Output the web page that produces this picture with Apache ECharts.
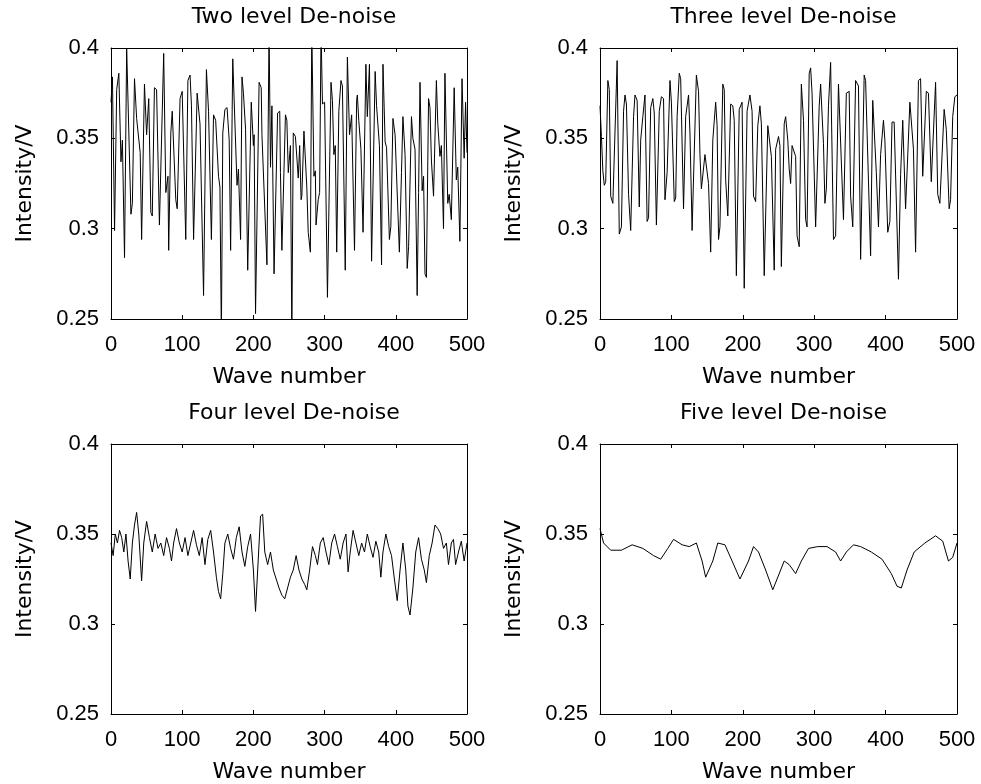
<!DOCTYPE html>
<html>
<head>
<meta charset="utf-8">
<script src="https://cdn.jsdelivr.net/npm/echarts@6/dist/echarts.min.js"></script>
<style>
  html, body { margin: 0; padding: 0; background: #fff; }
  #chart { width: 981px; height: 784px; }
</style>
</head>
<body>
<div id="chart"></div>
<script>
// panel titles
var titles = ['Two level De-noise', 'Three level De-noise', 'Four level De-noise', 'Five level De-noise'];
var xTicks = [0, 500, 100];      // min, max, step
var yTicks = [0.25, 0.4, 0.05];

// [wave number, intensity]
var twoLevel = [
  [0,0.37],[2,0.384],[5,0.299],[8,0.377],[11,0.386],[14,0.337],[16,0.349],[19,0.284],[22,0.4],
  [28,0.308],[30,0.314],[33,0.383],[36,0.361],[38,0.36],[41,0.342],[43,0.294],[47,0.38],[50,0.352],
  [53,0.372],[56,0.309],[58,0.307],[61,0.378],[64,0.377],[68,0.302],[74,0.397],[77,0.32],[80,0.329],
  [81,0.288],[84,0.353],[86,0.365],[88,0.365],[91,0.316],[93,0.311],[97,0.372],[100,0.376],[105,0.294],
  [108,0.382],[111,0.385],[113,0.368],[116,0.294],[121,0.375],[125,0.358],[127,0.357],[130,0.263],
  [134,0.388],[137,0.365],[139,0.366],[141,0.294],[144,0.363],[147,0.36],[151,0.329],[153,0.323],
  [155,0.24],[157,0.353],[160,0.366],[163,0.367],[166,0.349],[168,0.288],[171,0.394],[177,0.324],
  [179,0.333],[182,0.294],[184,0.384],[186,0.375],[189,0.355],[192,0.277],[197,0.37],[198,0.362],
  [200,0.346],[201,0.352],[203,0.253],[208,0.381],[211,0.378],[212,0.352],[214,0.351],[219,0.28],
  [222,0.41],[224,0.334],[226,0.368],[229,0.275],[234,0.364],[237,0.365],[238,0.331],[240,0.288],
  [245,0.363],[247,0.36],[249,0.331],[252,0.346],[254,0.24],[256,0.353],[259,0.351],[263,0.328],
  [265,0.346],[267,0.316],[268,0.318],[271,0.354],[275,0.323],[277,0.298],[280,0.287],[282,0.41],
  [285,0.329],[287,0.332],[288,0.302],[291,0.316],[293,0.32],[295,0.41],[297,0.369],[300,0.37],
  [304,0.262],[309,0.381],[311,0.371],[313,0.341],[315,0.346],[317,0.287],[320,0.365],[323,0.382],
  [325,0.379],[329,0.277],[332,0.395],[335,0.352],[338,0.363],[342,0.288],[343,0.287],[345,0.371],
  [346,0.374],[348,0.36],[351,0.344],[354,0.298],[358,0.391],[360,0.362],[363,0.391],[366,0.282],
  [371,0.387],[373,0.368],[377,0.346],[380,0.28],[382,0.391],[385,0.348],[387,0.345],[391,0.294],
  [393,0.301],[396,0.361],[399,0.352],[401,0.351],[405,0.287],[408,0.331],[410,0.362],[413,0.341],
  [416,0.278],[418,0.29],[420,0.29],[422,0.362],[424,0.35],[427,0.344],[430,0.263],[432,0.32],
  [434,0.381],[437,0.321],[439,0.329],[441,0.275],[443,0.273],[446,0.372],[448,0.367],[450,0.338],
  [453,0.318],[457,0.382],[459,0.358],[462,0.34],[464,0.346],[467,0.3],[469,0.386],[473,0.314],
  [475,0.319],[478,0.305],[482,0.378],[485,0.327],[487,0.334],[490,0.293],[493,0.383],[496,0.339],
  [498,0.37],[500,0.342]
];

var threeLevel = [
  [0,0.368],[2,0.351],[4,0.332],[6,0.324],[8,0.326],[11,0.382],[13,0.377],[15,0.318],[18,0.314],
  [24,0.393],[27,0.297],[30,0.301],[33,0.365],[35,0.374],[37,0.369],[40,0.319],[43,0.299],[47,0.362],
  [49,0.374],[52,0.371],[55,0.312],[57,0.349],[60,0.362],[63,0.374],[66,0.304],[68,0.306],[71,0.367],
  [74,0.372],[76,0.364],[79,0.302],[83,0.365],[86,0.373],[89,0.372],[91,0.316],[94,0.331],[98,0.382],
  [100,0.37],[104,0.315],[106,0.317],[108,0.362],[111,0.386],[113,0.383],[117,0.311],[120,0.362],
  [124,0.374],[126,0.353],[129,0.299],[135,0.385],[138,0.376],[140,0.341],[142,0.322],[144,0.322],
  [147,0.341],[149,0.34],[152,0.325],[155,0.287],[158,0.349],[162,0.37],[164,0.357],[166,0.294],
  [168,0.301],[172,0.38],[174,0.377],[176,0.327],[179,0.307],[183,0.369],[186,0.368],[188,0.36],
  [191,0.274],[195,0.366],[199,0.37],[202,0.267],[206,0.365],[210,0.374],[213,0.365],[215,0.318],
  [218,0.315],[221,0.357],[224,0.368],[226,0.358],[230,0.274],[235,0.357],[237,0.356],[240,0.34],
  [244,0.277],[246,0.344],[250,0.351],[252,0.346],[254,0.279],[258,0.358],[260,0.362],[263,0.349],
  [265,0.333],[267,0.325],[269,0.346],[271,0.346],[274,0.34],[276,0.296],[279,0.29],[282,0.38],
  [285,0.36],[288,0.305],[290,0.301],[293,0.386],[295,0.389],[297,0.375],[302,0.301],[304,0.302],
  [307,0.368],[309,0.38],[313,0.347],[315,0.314],[317,0.322],[320,0.368],[323,0.392],[327,0.294],
  [330,0.296],[334,0.38],[341,0.305],[343,0.305],[345,0.375],[349,0.376],[351,0.318],[354,0.301],
  [358,0.382],[362,0.379],[365,0.283],[370,0.385],[372,0.382],[379,0.285],[382,0.371],[384,0.37],
  [387,0.331],[390,0.301],[393,0.341],[397,0.36],[399,0.349],[403,0.298],[406,0.304],[409,0.359],
  [412,0.359],[418,0.272],[421,0.33],[424,0.36],[428,0.311],[430,0.31],[434,0.37],[439,0.344],
  [442,0.287],[443,0.287],[446,0.382],[449,0.383],[452,0.329],[454,0.33],[457,0.376],[460,0.375],
  [464,0.326],[470,0.381],[473,0.319],[476,0.314],[482,0.366],[485,0.355],[489,0.311],[491,0.316],
  [494,0.362],[497,0.373],[500,0.374]
];

var fourLevel = [
  [0,0.345],[3,0.338],[6,0.35],[9,0.345],[12,0.352],[15,0.348],[18,0.34],[21,0.35],[24,0.335],
  [27,0.325],[30,0.345],[33,0.355],[36,0.362],[39,0.35],[43,0.324],[46,0.345],[50,0.357],[54,0.348],
  [58,0.34],[62,0.35],[66,0.342],[70,0.345],[74,0.338],[78,0.348],[82,0.342],[85,0.335],[88,0.345],
  [92,0.353],[96,0.345],[100,0.34],[104,0.348],[108,0.338],[112,0.345],[116,0.352],[120,0.344],
  [124,0.338],[128,0.348],[132,0.333],[136,0.347],[140,0.352],[144,0.34],[148,0.326],[151,0.318],
  [154,0.314],[157,0.328],[160,0.345],[164,0.35],[168,0.342],[172,0.336],[176,0.348],[180,0.354],
  [184,0.34],[188,0.332],[192,0.343],[196,0.35],[200,0.33],[203,0.307],[206,0.33],[210,0.36],
  [213,0.361],[216,0.34],[220,0.333],[224,0.34],[228,0.33],[232,0.325],[236,0.32],[240,0.316],
  [244,0.314],[248,0.32],[252,0.326],[256,0.33],[260,0.338],[264,0.33],[268,0.325],[272,0.322],
  [275,0.319],[279,0.33],[283,0.343],[287,0.338],[290,0.333],[294,0.345],[298,0.348],[302,0.34],
  [306,0.333],[310,0.345],[314,0.35],[318,0.343],[322,0.336],[326,0.345],[330,0.35],[333,0.329],
  [336,0.34],[340,0.352],[344,0.345],[348,0.338],[352,0.345],[356,0.34],[360,0.35],[364,0.343],
  [368,0.337],[372,0.346],[376,0.34],[379,0.326],[382,0.34],[386,0.35],[390,0.343],[394,0.338],
  [398,0.325],[402,0.313],[406,0.33],[410,0.345],[414,0.33],[417,0.31],[420,0.305],[424,0.32],
  [428,0.34],[432,0.348],[436,0.336],[440,0.33],[443,0.323],[447,0.338],[451,0.345],[455,0.355],
  [459,0.353],[463,0.35],[467,0.342],[471,0.345],[474,0.333],[478,0.345],[481,0.347],[484,0.333],
  [488,0.34],[492,0.346],[496,0.335],[500,0.345]
];

var fiveLevel = [
  [0,0.353],[5,0.345],[15,0.341],[30,0.341],[45,0.344],[60,0.342],[75,0.338],[85,0.336],[95,0.342],
  [103,0.347],[115,0.344],[125,0.343],[135,0.345],[143,0.335],[148,0.326],[158,0.335],[165,0.345],
  [175,0.344],[185,0.335],[196,0.325],[208,0.335],[215,0.343],[222,0.34],[232,0.33],[242,0.319],
  [248,0.325],[258,0.335],[265,0.333],[274,0.328],[282,0.335],[292,0.342],[305,0.343],[318,0.343],
  [330,0.34],[337,0.335],[345,0.34],[355,0.344],[365,0.343],[380,0.34],[395,0.336],[408,0.328],
  [416,0.321],[422,0.32],[430,0.33],[440,0.34],[455,0.345],[470,0.349],[480,0.346],[488,0.335],
  [494,0.337],[500,0.345]
];

var seriesData = [twoLevel, threeLevel, fourLevel, fiveLevel];

var tickFont = "'Liberation Sans', Arial, sans-serif";
var textFont = "'DejaVu Sans', 'Liberation Sans', sans-serif";
var grids = [
  { left: 111, top: 48, width: 356, height: 271 },
  { left: 600, top: 48, width: 357, height: 271 },
  { left: 111, top: 444, width: 356, height: 270 },
  { left: 600, top: 444, width: 357, height: 270 }
];

function fmtY(v) { return String(+v.toFixed(2)); }

var xAxes = [], yAxes = [], series = [], titleList = [];
for (var i = 0; i < 4; i++) {
  var g = grids[i];
  titleList.push({
    text: titles[i],
    left: g.left + g.width / 2,
    top: g.top - 47,
    textAlign: 'center',
    textStyle: { fontFamily: textFont, fontSize: 22, fontWeight: 'normal', color: '#000' }
  });
  var baseX = {
    type: 'value', gridIndex: i, min: xTicks[0], max: xTicks[1], interval: xTicks[2],
    axisLine: { show: true, onZero: false, lineStyle: { color: '#000', width: 1 } },
    axisTick: { show: true, inside: true, length: 4, lineStyle: { color: '#000' } },
    splitLine: { show: false }
  };
  xAxes.push(Object.assign({}, baseX, {
    position: 'bottom',
    name: 'Wave number', nameLocation: 'middle', nameGap: 47,
    nameTextStyle: { fontFamily: textFont, fontSize: 22, color: '#000' },
    axisLabel: { fontFamily: tickFont, fontSize: 22, color: '#000', margin: 15 }
  }));
  xAxes.push(Object.assign({}, baseX, { position: 'top', axisLabel: { show: false } }));
  var baseY = {
    type: 'value', gridIndex: i, min: yTicks[0], max: yTicks[1], interval: yTicks[2],
    axisLine: { show: true, onZero: false, lineStyle: { color: '#000', width: 1 } },
    axisTick: { show: true, inside: true, length: 4, lineStyle: { color: '#000' } },
    splitLine: { show: false }
  };
  yAxes.push(Object.assign({}, baseY, {
    position: 'left',
    name: 'Intensity/V', nameLocation: 'middle', nameGap: 75, nameRotate: 90,
    nameTextStyle: { fontFamily: textFont, fontSize: 22, color: '#000' },
    axisLabel: { fontFamily: tickFont, fontSize: 22, color: '#000', margin: 12, formatter: fmtY }
  }));
  yAxes.push(Object.assign({}, baseY, { position: 'right', axisLabel: { show: false } }));
  series.push({
    type: 'line', xAxisIndex: i * 2, yAxisIndex: i * 2,
    data: seriesData[i], showSymbol: false, symbol: 'none', clip: true,
    lineStyle: { color: '#000', width: 1 }
  });
}

var chart = echarts.init(document.getElementById('chart'), null, { renderer: 'canvas' });
chart.setOption({
  animation: false,
  backgroundColor: '#fff',
  title: titleList,
  grid: grids,
  xAxis: xAxes,
  yAxis: yAxes,
  series: series
});
</script>
</body>
</html>
